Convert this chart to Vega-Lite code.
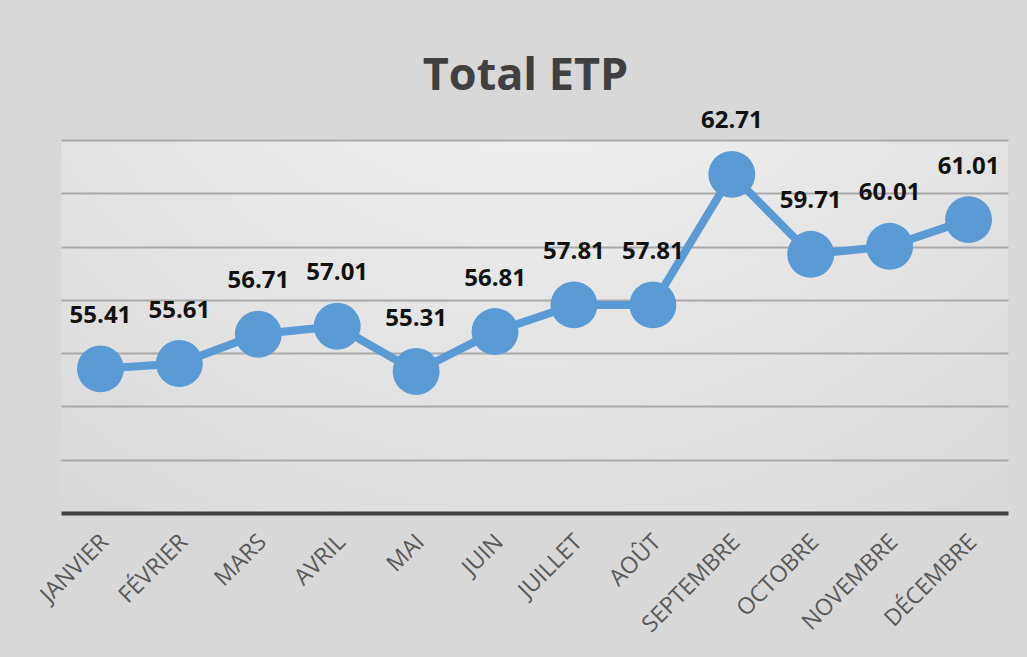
{
  "$schema": "https://vega.github.io/schema/vega-lite/v6.json",
  "width": 947,
  "height": 373,
  "autosize": {"type": "none"},
  "padding": {"left": 61, "top": 140, "right": 19, "bottom": 144},
  "background": "#d8d8d8",
  "title": {"text": "Total ETP", "font": "Open Sans", "fontSize": 45, "fontWeight": "bold", "color": "#404040", "anchor": "middle", "frame": "group", "baseline": "alphabetic", "offset": -26, "dx": -9},
  "data": {"values": [
    {"mois": "JANVIER", "etp": 55.41},
    {"mois": "FÉVRIER", "etp": 55.61},
    {"mois": "MARS", "etp": 56.71},
    {"mois": "AVRIL", "etp": 57.01},
    {"mois": "MAI", "etp": 55.31},
    {"mois": "JUIN", "etp": 56.81},
    {"mois": "JUILLET", "etp": 57.81},
    {"mois": "AOÛT", "etp": 57.81},
    {"mois": "SEPTEMBRE", "etp": 62.71},
    {"mois": "OCTOBRE", "etp": 59.71},
    {"mois": "NOVEMBRE", "etp": 60.01},
    {"mois": "DÉCEMBRE", "etp": 61.01}
  ]},
  "encoding": {
    "x": {"field": "mois", "type": "nominal", "sort": null,
      "scale": {"type": "point", "padding": 0.5},
      "axis": {"title": null, "domain": true, "domainColor": "#404040", "domainWidth": 4, "ticks": false, "grid": false,
        "labelAngle": -45, "labelAlign": "right", "labelBaseline": "middle", "labelFont": "Open Sans", "labelFontSize": 23, "labelColor": "#595959", "labelPadding": 25, "labelOffset": 4}},
    "y": {"field": "etp", "type": "quantitative",
      "scale": {"domain": [50, 64], "nice": false, "zero": false},
      "axis": {"title": null, "domain": false, "labels": false, "ticks": false, "grid": true, "gridColor": "#a9a9a9", "gridWidth": 2, "values": [52, 54, 56, 58, 60, 62, 64]}}
  },
  "layer": [
    {"mark": {"type": "line", "color": "#5b9bd5", "strokeWidth": 8}},
    {"mark": {"type": "point", "filled": true, "opacity": 1, "color": "#5b9bd5", "size": 2200, "shape": "circle"}},
    {"mark": {"type": "text", "dy": -53, "font": "Open Sans", "fontSize": 24, "fontWeight": "bold", "color": "#111111", "baseline": "middle"},
      "encoding": {"text": {"field": "etp", "type": "quantitative", "format": ".2f"}}}
  ],
  "config": {"view": {"stroke": null, "fill": {"expr": "{gradient: 'radial', x1: 0.5, y1: 0.0, r1: 0, x2: 0.5, y2: 0.0, r2: 1.1, stops: [{offset: 0, color: '#f8f8f8'}, {offset: 1, color: '#d0d0d0'}]}"}}}
}
